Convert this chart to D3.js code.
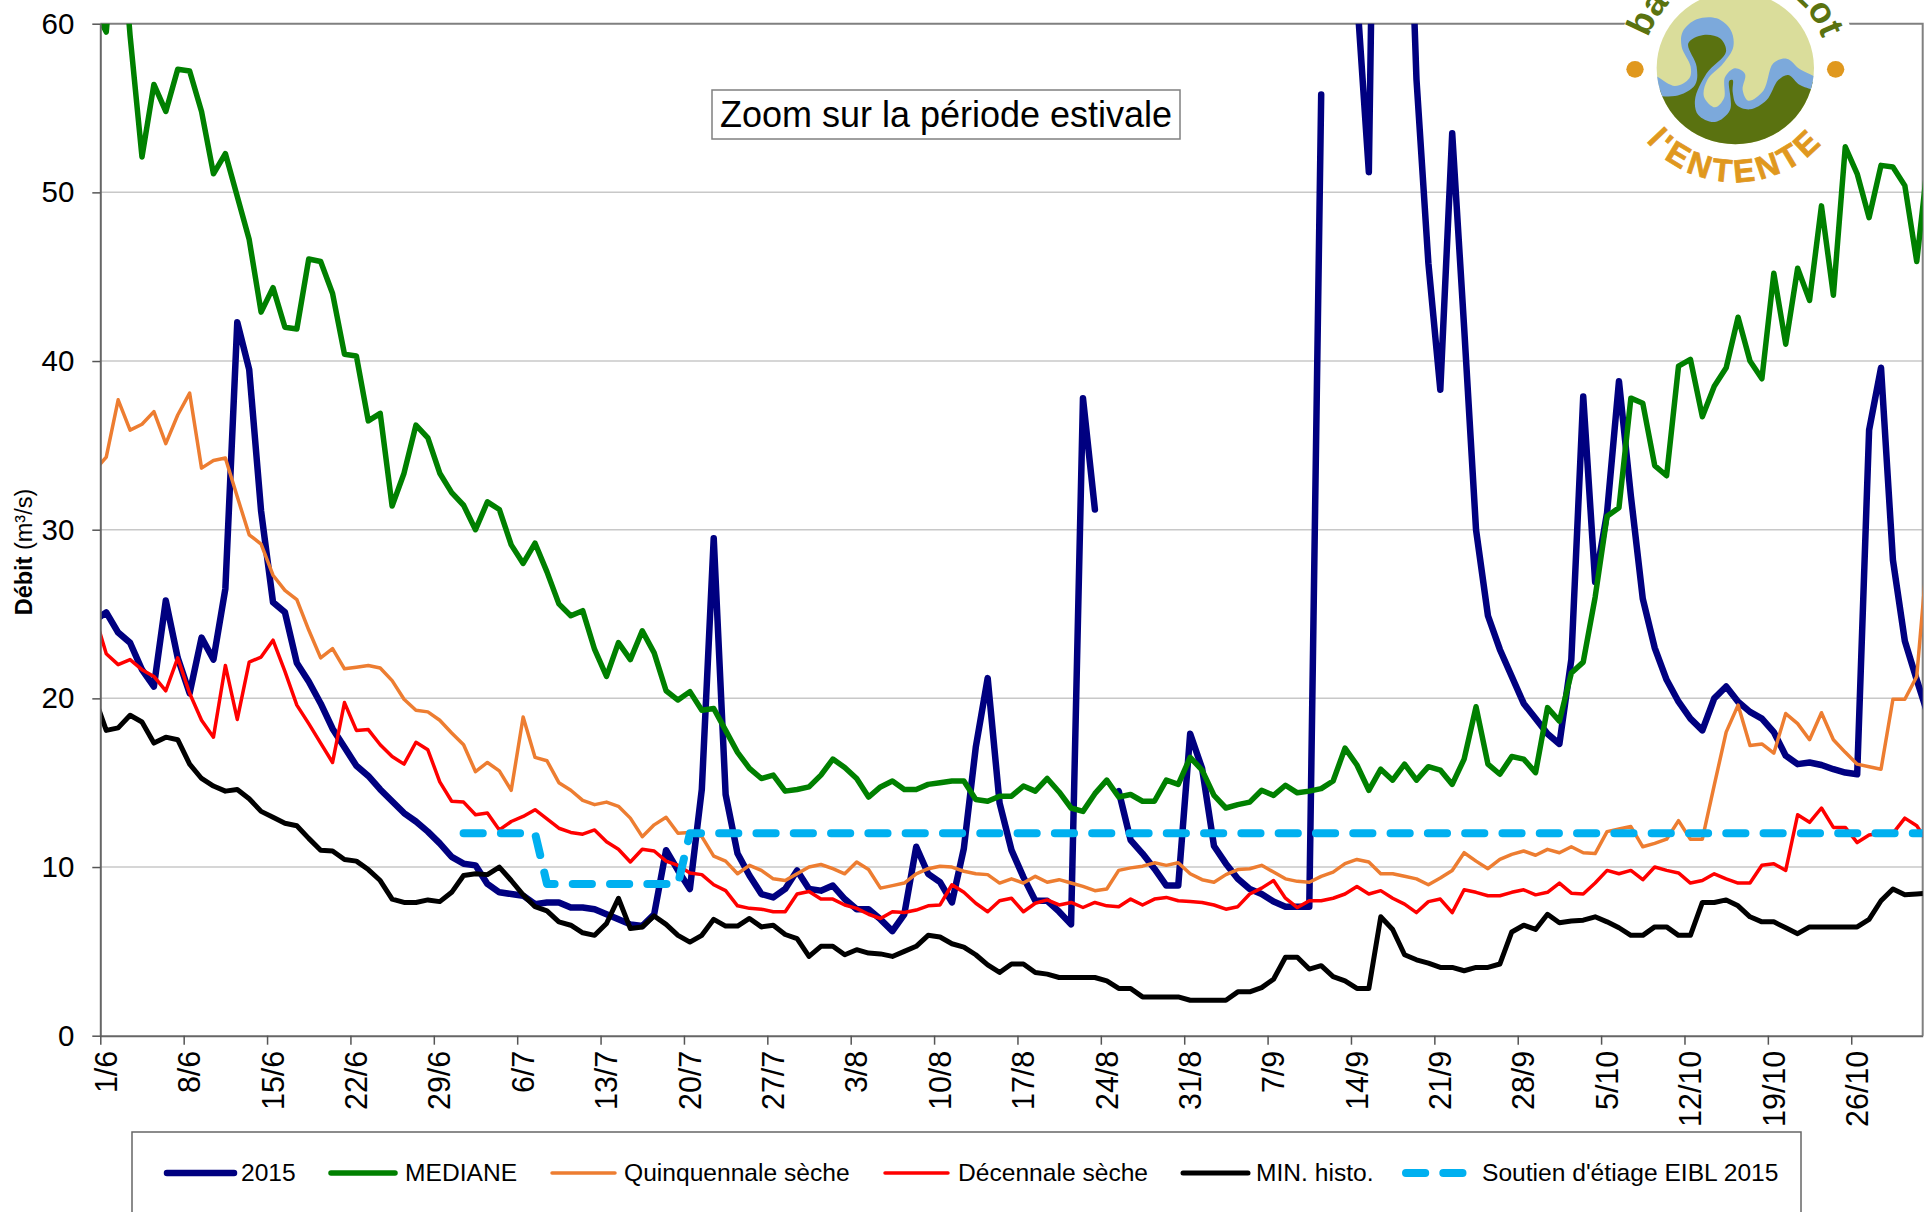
<!DOCTYPE html>
<html lang="fr">
<head>
<meta charset="UTF-8">
<script src="https://cdn.jsdelivr.net/npm/d3@7"></script>
<title>Débit - zoom estival</title>
<style>
  html, body { margin: 0; padding: 0; background: #fff; overflow: hidden; }
  svg { display: block; }
  text { font-family: "Liberation Sans", Arial, sans-serif; fill: #000; }
  .grid line { stroke: #c8c8c8; stroke-width: 1.5px; }
  .axis path { stroke: #666; stroke-width: 2px; }
  .axis line { stroke: #555; stroke-width: 1.5px; }
</style>
</head>
<body>
<svg id="chart" width="1928" height="1212"></svg>
<script>
// one value per day, the first one is 31/5 (just cut by the axis)
var q2015 = [24.6,
  25.1,23.9,23.3,21.7,20.7,25.8,22.4,20.3,23.6,22.3,
  26.5,42.3,39.5,31.1,25.7,25.1,22.1,21.0,19.7,18.2,
  17.1,16.0,15.4,14.6,13.9,13.2,12.7,12.1,11.4,10.6,
  10.2,10.1,9.0,8.5,8.4,8.3,7.8,7.9,7.9,7.6,
  7.6,7.5,7.2,6.9,6.6,6.5,7.2,11.0,9.8,8.7,
  14.6,29.5,14.3,10.8,9.5,8.4,8.2,8.7,9.8,8.7,
  8.6,8.9,8.1,7.5,7.5,6.9,6.2,7.2,11.2,9.6,
  9.1,7.9,11.1,17.1,21.2,13.8,11.0,9.4,8.0,8.0,
  7.35,6.6,37.8,31.2,null,14.5,11.6,10.8,9.9,8.9,
  8.9,17.9,15.85,11.25,10.2,9.3,8.7,8.4,7.95,7.65,
  7.65,7.65,55.8,null,null,61.7,51.2,99,90,77,
  56.7,45.8,38.3,53.5,42,30,24.9,22.9,21.3,19.7,
  18.8,17.9,17.3,22.3,37.9,26.9,31,38.8,32,25.9,
  23.0,21.1,19.8,18.8,18.1,20.0,20.7,19.8,19.2,18.8,
  18.0,16.6,16.1,16.2,16.05,15.8,15.6,15.5,35.9,39.6,
  28.2,23.4,21.1,18.9];

var mediane = [60.9,
  59.5,68,59.3,52.1,56.4,54.8,57.3,57.2,54.8,51.1,
  52.3,49.75,47.2,42.9,44.35,42.0,41.9,46.05,45.9,44.0,
  40.4,40.3,36.45,36.9,31.4,33.35,36.2,35.45,33.35,32.2,
  31.45,30.0,31.65,31.2,29.1,28.0,29.2,27.5,25.6,24.9,
  25.2,22.9,21.3,23.3,22.3,24.0,22.7,20.45,19.9,20.4,
  19.3,19.4,18.1,16.8,15.85,15.25,15.45,14.5,14.6,14.75,
  15.45,16.4,15.9,15.25,14.15,14.75,15.1,14.6,14.6,14.9,
  15.0,15.1,15.1,14.0,13.9,14.2,14.2,14.8,14.5,15.25,
  14.45,13.5,13.3,14.35,15.15,14.15,14.3,13.9,13.9,15.15,
  14.9,16.5,15.75,14.25,13.5,13.7,13.85,14.55,14.25,14.85,
  14.4,14.5,14.65,15.1,17.05,16.05,14.55,15.8,15.15,16.1,
  15.15,15.95,15.75,14.9,16.4,19.5,16.1,15.5,16.55,16.4,
  15.6,19.45,18.65,21.5,22.15,26.0,30.8,31.3,37.8,37.5,
  33.8,33.2,39.7,40.1,36.7,38.5,39.6,42.6,40.0,38.95,
  45.2,41.0,45.5,43.6,49.2,43.9,52.7,51.1,48.5,51.6,
  51.5,50.4,45.9,52.3];

var quinquennale = [33.5,
  34.3,37.7,35.9,36.25,37.0,35.1,36.8,38.1,33.65,34.1,
  34.25,31.95,29.7,29.15,27.3,26.4,25.85,24.05,22.4,22.95,
  21.75,21.85,21.95,21.8,21.05,19.95,19.3,19.2,18.7,17.95,
  17.25,15.65,16.2,15.7,14.55,18.9,16.5,16.3,15.0,14.55,
  13.95,13.7,13.85,13.6,12.9,11.8,12.5,12.95,12.0,12.05,
  11.8,10.65,10.35,9.6,10.1,9.8,9.3,9.2,9.6,10.0,
  10.15,9.9,9.6,10.3,9.85,8.75,8.9,9.05,9.6,9.9,
  10.05,10.0,9.75,9.6,9.55,9.05,9.3,9.05,9.45,9.1,
  9.25,9.05,8.85,8.6,8.7,9.8,9.95,10.05,10.25,10.1,
  10.25,9.6,9.25,9.1,9.55,9.85,9.9,10.1,9.7,9.3,
  9.15,9.1,9.45,9.7,10.2,10.45,10.3,9.6,9.6,9.45,
  9.3,8.95,9.35,9.8,10.85,10.35,9.9,10.45,10.75,10.95,
  10.7,11.05,10.85,11.2,10.85,10.8,12.1,12.25,12.4,11.2,
  11.4,11.65,12.75,11.65,11.65,14.85,18.0,19.6,17.2,17.3,
  16.75,19.1,18.5,17.55,19.15,17.55,16.8,16.1,15.95,15.8,
  19.95,19.95,21.3,29.5];

var decennale = [25.0,
  22.65,22.0,22.3,21.7,21.3,20.45,22.4,20.3,18.7,17.7,
  21.95,18.75,22.15,22.45,23.45,21.6,19.6,18.5,17.35,16.2,
  19.75,18.1,18.15,17.25,16.55,16.1,17.4,16.95,15.05,13.9,
  13.85,13.1,13.2,12.2,12.7,13.0,13.4,12.85,12.3,12.05,
  11.95,12.2,11.5,11.05,10.3,11.05,10.95,10.35,10.1,9.65,
  9.55,8.95,8.6,7.7,7.55,7.5,7.35,7.35,8.4,8.55,
  8.1,8.1,7.75,7.55,7.2,6.95,7.35,7.3,7.45,7.7,
  7.75,8.95,8.5,7.85,7.35,8.0,8.15,7.35,7.85,8.05,
  7.75,7.9,7.6,7.9,7.7,7.65,8.1,7.75,8.1,8.2,
  8.0,7.95,7.9,7.75,7.5,7.65,8.4,8.75,9.2,8.15,
  7.6,8.0,8.0,8.15,8.4,8.85,8.4,8.6,8.15,7.8,
  7.3,7.95,8.1,7.3,8.65,8.5,8.3,8.3,8.5,8.65,
  8.35,8.5,9.05,8.45,8.4,9.05,9.8,9.6,9.8,9.25,
  10.0,9.8,9.65,9.05,9.2,9.6,9.3,9.05,9.05,10.1,
  10.2,9.8,13.1,12.65,13.5,12.35,12.35,11.45,11.9,12.0,
  12.0,12.9,12.45,11.4];

var minHisto = [20.1,
  18.1,18.25,19.0,18.6,17.35,17.7,17.55,16.1,15.25,14.8,
  14.5,14.6,14.05,13.3,12.95,12.6,12.45,11.7,11.0,10.95,
  10.45,10.35,9.85,9.2,8.1,7.9,7.9,8.05,7.95,8.5,
  9.5,9.6,9.55,10.0,9.2,8.35,7.65,7.4,6.75,6.55,
  6.1,5.95,6.65,8.15,6.35,6.45,7.1,6.6,5.95,5.55,
  5.95,6.9,6.5,6.5,6.95,6.45,6.55,6.0,5.75,4.7,
  5.3,5.3,4.8,5.1,4.9,4.85,4.7,5.0,5.3,5.95,
  5.85,5.45,5.25,4.8,4.2,3.75,4.25,4.25,3.75,3.65,
  3.45,3.45,3.45,3.45,3.25,2.8,2.8,2.3,2.3,2.3,
  2.3,2.1,2.1,2.1,2.1,2.6,2.6,2.85,3.35,4.65,
  4.65,3.95,4.15,3.5,3.25,2.8,2.8,7.05,6.3,4.8,
  4.5,4.3,4.05,4.05,3.85,4.05,4.05,4.25,6.15,6.55,
  6.3,7.2,6.7,6.8,6.85,7.05,6.75,6.4,5.95,5.95,
  6.45,6.45,5.95,5.95,7.9,7.9,8.05,7.7,7.05,6.75,
  6.75,6.4,6.05,6.45,6.45,6.45,6.45,6.45,6.9,8.0,
  8.7,8.35,8.4,8.45];

// soutien d'etiage: nothing before 30/6
var soutien = [null,
  null,null,null,null,null,null,null,null,null,null,
  null,null,null,null,null,null,null,null,null,null,
  null,null,null,null,null,null,null,null,null,null,
  12,12,12,12,12,12,12,9,9,9,
  9,9,9,9,9,9,9,9,9,12,
  12,12,12,12,12,12,12,12,12,12,
  12,12,12,12,12,12,12,12,12,12,
  12,12,12,12,12,12,12,12,12,12,
  12,12,12,12,12,12,12,12,12,12,
  12,12,12,12,12,12,12,12,12,12,
  12,12,12,12,12,12,12,12,12,12,
  12,12,12,12,12,12,12,12,12,12,
  12,12,12,12,12,12,12,12,12,12,
  12,12,12,12,12,12,12,12,12,12,
  12,12,12,12,12,12,12,12,12,12,
  12,12,12,12];

var tickLabels = ["1/6","8/6","15/6","22/6","29/6","6/7","13/7","20/7","27/7","3/8","10/8",
  "17/8","24/8","31/8","7/9","14/9","21/9","28/9","5/10","12/10","19/10","26/10"];
var yTicks = [0, 10, 20, 30, 40, 50, 60];

var seriesNames = ["2015", "MEDIANE", "Quinquennale sèche", "Décennale sèche", "MIN. histo.", "Soutien d'étiage EIBL 2015"];
var seriesValues = [q2015, mediane, quinquennale, decennale, minHisto, soutien];
var seriesColors = ["#000080", "#008000", "#ed7d31", "#ff0000", "#000000", "#00b0f0"];
var seriesWidths = [6.5, 5.5, 3.5, 3.5, 5, 8];

var svg = d3.select("#chart");
var left = 100.3, right = 1922.7, top_ = 23.7, bottom = 1035.7;

var x = d3.scaleLinear().domain([0, 153]).range([left, right]);
var y = d3.scaleLinear().domain([0, 60]).range([bottom, top_]);

svg.append("defs").append("clipPath").attr("id", "plot")
  .append("rect").attr("x", left).attr("y", top_).attr("width", right - left).attr("height", bottom - top_);

// gridlines
svg.append("g").attr("class", "grid")
  .selectAll("line").data(yTicks.slice(1, -1)).enter().append("line")
  .attr("x1", left).attr("x2", right)
  .attr("y1", function(d) { return y(d); }).attr("y2", function(d) { return y(d); });

// plot frame, top and right
svg.append("path")
  .attr("d", "M" + left + "," + top_ + "H" + right + "V" + bottom)
  .attr("fill", "none").attr("stroke", "#808080").attr("stroke-width", 2);

// series
var line = d3.line()
  .defined(function(d) { return d != null; })
  .x(function(d, i) { return x(i - 0.5); })
  .y(function(d) { return y(d); });

var plot = svg.append("g").attr("clip-path", "url(#plot)");
seriesValues.forEach(function(values, k) {
  var p = plot.append("path")
    .attr("d", line(values))
    .attr("fill", "none")
    .attr("stroke", seriesColors[k])
    .attr("stroke-width", seriesWidths[k])
    .attr("stroke-linejoin", "round")
    .attr("stroke-linecap", "round");
  if (k == 5) p.attr("stroke-dasharray", "19.2,18.1");
});

// axes
var yAxis = d3.axisLeft(y).tickValues(yTicks).tickSize(8).tickSizeOuter(0).tickPadding(18);
var gy = svg.append("g").attr("class", "axis").attr("transform", "translate(" + left + ",0)").call(yAxis);
gy.selectAll("text").style("font-size", "29.5px").attr("font-family", null);

var xAxis = d3.axisBottom(x)
  .tickValues(tickLabels.map(function(d, i) { return i * 7; }))
  .tickFormat(function(d, i) { return tickLabels[i]; })
  .tickSize(9).tickSizeOuter(0);
var gx = svg.append("g").attr("class", "axis").attr("transform", "translate(0," + bottom + ")").call(xAxis);
gx.selectAll("text")
  .style("font-size", "30.5px")
  .attr("text-anchor", "end")
  .attr("transform", "rotate(-90)")
  .attr("x", -15).attr("y", 5.5).attr("dy", "0.35em");

// y title
svg.append("text")
  .attr("transform", "translate(32,552) rotate(-90)")
  .attr("text-anchor", "middle")
  .style("font-size", "23.5px")
  .call(function(t) {
    t.append("tspan").attr("font-weight", "bold").text("Débit");
    t.append("tspan").text(" (m³/s)");
  });

// title box
svg.append("rect").attr("x", 712).attr("y", 90).attr("width", 468).attr("height", 49)
  .attr("fill", "#fff").attr("stroke", "#808080").attr("stroke-width", 1.5);
svg.append("text").attr("x", 946).attr("y", 127).attr("text-anchor", "middle")
  .style("font-size", "36px").text("Zoom sur la période estivale");

// legend
svg.append("rect").attr("x", 132).attr("y", 1132).attr("width", 1669).attr("height", 120)
  .attr("fill", "#fff").attr("stroke", "#666").attr("stroke-width", 1.5);
var legendX1 = [164, 328, 549, 882, 1180, 1403];
var legendX2 = [237, 398, 618, 951, 1251, 1466];
var legendTextX = [241, 405, 624, 958, 1256, 1482];
seriesNames.forEach(function(name, k) {
  var l = svg.append("line")
    .attr("x1", legendX1[k] + 3).attr("x2", legendX2[k] - 3)
    .attr("y1", 1173).attr("y2", 1173)
    .attr("stroke", seriesColors[k]).attr("stroke-width", seriesWidths[k])
    .attr("stroke-linecap", "round");
  if (k == 5) l.attr("stroke-dasharray", "19.2,18.1");
  svg.append("text").attr("x", legendTextX[k]).attr("y", 1181)
    .style("font-size", "24.6px").text(name);
});

// logo
var logo = svg.append("g");
logo.append("ellipse").attr("cx", 1737).attr("cy", 68).attr("rx", 121).attr("ry", 119).attr("fill", "#fff");
var art = logo.append("g").attr("transform", "translate(1600,0) scale(0.3333)");
var defs = svg.select("defs");
defs.append("clipPath").attr("id", "globe")
  .append("ellipse").attr("cx", 406).attr("cy", 204).attr("rx", 236).attr("ry", 229);
var globe = art.append("g").attr("clip-path", "url(#globe)");
globe.append("rect").attr("x", 160).attr("y", -30).attr("width", 500).attr("height", 480).attr("fill", "#dadd9b");
var blob = d3.line().curve(d3.curveCatmullRomClosed);
var landEdge = [[160,262],[225,274],[277,240],[278,195],[252,140],[270,90],[320,78],[372,110],[385,150],[345,200],
  [300,265],[305,325],[345,345],[382,315],[382,255],[396,228],[415,245],[412,290],[445,315],[495,290],
  [525,225],[560,205],[600,232],[650,258],[660,460],[150,460]];
globe.append("path").attr("d", d3.line().curve(d3.curveCatmullRom)(landEdge) + "Z").attr("fill", "#5a7210");
var river = [[150,222],[225,258],[268,235],[272,200],[245,140],[248,95],[290,58],[350,55],[392,90],[400,140],
  [370,190],[322,240],[312,290],[345,322],[372,295],[375,232],[405,205],[435,222],[428,270],[445,302],[490,272],
  [520,190],[560,176],[600,208],[655,240],[655,268],[600,255],[565,225],[535,240],[500,300],[450,328],[410,315],
  [398,275],[398,240],[388,242],[390,330],[345,366],[295,345],[285,300],[320,220],[378,155],[360,115],[310,105],
  [265,130],[290,200],[285,255],[225,288],[150,275]];
globe.append("path").attr("d", blob(river)).attr("fill", "#7ca9db");
art.append("ellipse").attr("cx", 105).attr("cy", 208).attr("rx", 26).attr("ry", 25).attr("fill", "#e0981e");
art.append("ellipse").attr("cx", 707).attr("cy", 208).attr("rx", 26).attr("ry", 25).attr("fill", "#e0981e");

defs.append("path").attr("id", "arcTop").attr("d", "M1643,68A92,92 0 0 1 1827,68");
defs.append("path").attr("id", "arcBottom").attr("d", "M1619,68A116,114 0 0 0 1851,68");
logo.append("text").attr("font-weight", "bold").style("font-size", "36px").style("fill", "#5a7210")
  .style("letter-spacing", "-0.5px").attr("text-anchor", "middle")
  .append("textPath").attr("href", "#arcTop").attr("startOffset", "50%").text("bassin du Lot");
logo.append("text").attr("font-weight", "bold").style("font-size", "32px").style("fill", "#e0981e")
  .style("stroke", "#e0981e").style("stroke-width", "0.8px")
  .style("letter-spacing", "4px").attr("text-anchor", "middle")
  .append("textPath").attr("href", "#arcBottom").attr("startOffset", "50%").text("l'ENTENTE");
</script>
</body>
</html>
